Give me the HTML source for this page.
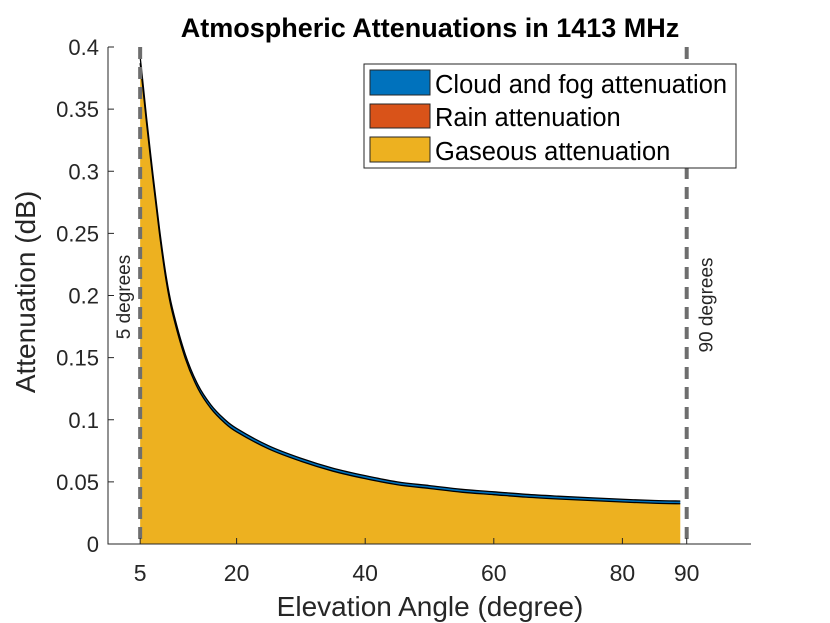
<!DOCTYPE html>
<html><head><meta charset="utf-8"><style>
body{margin:0;background:#fff;}
svg{display:block;font-family:"Liberation Sans",sans-serif;}
</style></head><body>
<svg id="chart" width="830" height="623" viewBox="0 0 830 623">
<text x="430" y="37" text-anchor="middle" font-size="27" font-weight="bold" fill="#000">Atmospheric Attenuations in 1413 MHz</text>
<g id="areas"></g>
<g id="axes"></g>
<g>
<rect x="364" y="64" width="372" height="104" fill="#fff" stroke="#262626" stroke-width="1"/>
<rect x="370" y="70" width="60" height="25" fill="#0072BD" stroke="#262626"/>
<text x="435" y="93" font-size="25.5" fill="#000">Cloud and fog attenuation</text>
<rect x="370" y="104" width="60" height="24" fill="#D95319" stroke="#262626"/>
<text x="435" y="126" font-size="25.5" fill="#000">Rain attenuation</text>
<rect x="370" y="137" width="60" height="25" fill="#EDB120" stroke="#262626"/>
<text x="435" y="160" font-size="25.5" fill="#000">Gaseous attenuation</text>
</g>
</svg>
<script>
const elevations=[5,5.5,6,7,8,9,10,12,14,16,18,20,25,30,35,40,45,50,55,60,65,70,75,80,85,89];
const gasValues=[0.387,0.3632,0.3385,0.2928,0.250,0.2132,0.1864,0.1497,0.125,0.1091,0.0982,0.0903,0.0765,0.0666,0.0586,0.0526,0.0477,0.0447,0.0417,0.0397,0.0377,0.0362,0.035,0.0338,0.0328,0.0324];
const rainValues=[0,0,0,0,0,0,0,0,0,0,0,0,0,0,0,0,0,0,0,0,0,0,0,0,0,0];
const cloudValues=[0.005,0.0048,0.0045,0.0042,0.004,0.0038,0.0036,0.0033,0.003,0.0029,0.0028,0.0027,0.0025,0.0024,0.0024,0.0024,0.0023,0.0023,0.0023,0.0023,0.0023,0.0023,0.0022,0.0022,0.0022,0.0022];
const xTicks=[5,20,40,60,80,90];
const yTicks=[0,0.05,0.1,0.15,0.2,0.25,0.3,0.35,0.4];
const yTickLabels=["0","0.05","0.1","0.15","0.2","0.25","0.3","0.35","0.4"];
const markerLines=[5,90];
const markerLabels=["5 degrees","90 degrees"];

const X0=108,X1=751,Y0=544,Y1=47;
const xs=v=>X0+(v-0)/(100-0)*(X1-X0);
const ys=v=>Y0-(v/0.4)*(Y0-Y1);
const NS="http://www.w3.org/2000/svg";
function mk(tag,parent,attrs){const e=document.createElementNS(NS,tag);for(const k in attrs)e.setAttribute(k,attrs[k]);parent.appendChild(e);return e;}
const areas=document.getElementById('areas'),axes=document.getElementById('axes');
function curveFrom(ex,vals){
  const p=ex.map((e,i)=>[xs(e),ys(vals[i])]);
  let d="";
  for(let i=0;i<p.length-1;i++){
    const p0=p[Math.max(0,i-1)],p1=p[i],p2=p[i+1],p3=p[Math.min(p.length-1,i+2)];
    const c1=[p1[0]+(p2[0]-p0[0])/6,p1[1]+(p2[1]-p0[1])/6];
    const c2=[p2[0]-(p3[0]-p1[0])/6,p2[1]-(p3[1]-p1[1])/6];
    d+=`C${c1[0]},${c1[1]} ${c2[0]},${c2[1]} ${p2[0]},${p2[1]}`;
  }
  return {start:p[0],d:d};
}
function band(lo,hi,color,name){
  const top=curveFrom(elevations,hi);
  const bot=curveFrom([...elevations].reverse(),[...lo].reverse());
  let d=`M${xs(elevations[0])},${ys(lo[0])}L${top.start[0]},${top.start[1]}`+top.d+`L${bot.start[0]},${bot.start[1]}`+bot.d+"Z";
  const p=mk('path',areas,{d:d,fill:color,stroke:"none"});
  
  
}
const zero=elevations.map(()=>0);
const g1=gasValues, g2=gasValues.map((v,i)=>v+rainValues[i]), g3=g2.map((v,i)=>v+cloudValues[i]);
band(zero,g1,"#EDB120","gas-area");
band(g1,g2,"#D95319","rain-area");
band(g2,g3,"#0072BD","cloud-area");
function line(vals,name,w){
  const c=curveFrom(elevations,vals);
  const p=mk('path',areas,{d:`M${c.start[0]},${c.start[1]}`+c.d,fill:"none",stroke:"#000","stroke-width":w});
  
  
}
line(g1,"gas-edge",1.3);line(g3,"cloud-edge",1.3);
markerLines.forEach((m,i)=>{
  const l=mk('line',areas,{x1:xs(m),x2:xs(m),y1:Y1,y2:Y0,stroke:"#6e6e6e","stroke-width":4,"stroke-dasharray":"12,8"});
  
  
  const tx=i===0?xs(m)-10:xs(m)+26, ty=i===0?297:305;
  const t=mk('text',areas,{x:tx,y:ty,"font-size":19,fill:"#262626","text-anchor":"middle",transform:`rotate(-90 ${tx} ${ty})`});
  t.textContent=markerLabels[i];
  
  
});
const c="#262626";
const ax=mk('path',axes,{d:`M${X0},${Y1}V${Y0}H${X1}`,fill:"none",stroke:c,"stroke-width":1});


yTicks.forEach((v,i)=>{
  mk('line',axes,{x1:X0,x2:X0+6,y1:ys(v),y2:ys(v),stroke:c});
  const t=mk('text',axes,{x:X0-9,y:ys(v)+8,"font-size":22,fill:c,"text-anchor":"end"});
  t.textContent=yTickLabels[i];
  
  
});
xTicks.forEach(v=>{
  mk('line',axes,{x1:xs(v),x2:xs(v),y1:Y0,y2:Y0-6,stroke:c});
  const t=mk('text',axes,{x:xs(v),y:581,"font-size":23,fill:c,"text-anchor":"middle"});
  t.textContent=String(v);
  
  
});
const xt=mk('text',axes,{x:430,y:616,"font-size":28,fill:c,"text-anchor":"middle"});
xt.textContent="Elevation Angle (degree)";


const yt=mk('text',axes,{x:35,y:292,"font-size":28,fill:c,"text-anchor":"middle",transform:"rotate(-90 35 292)"});
yt.textContent="Attenuation (dB)";


</script>
</body></html>
